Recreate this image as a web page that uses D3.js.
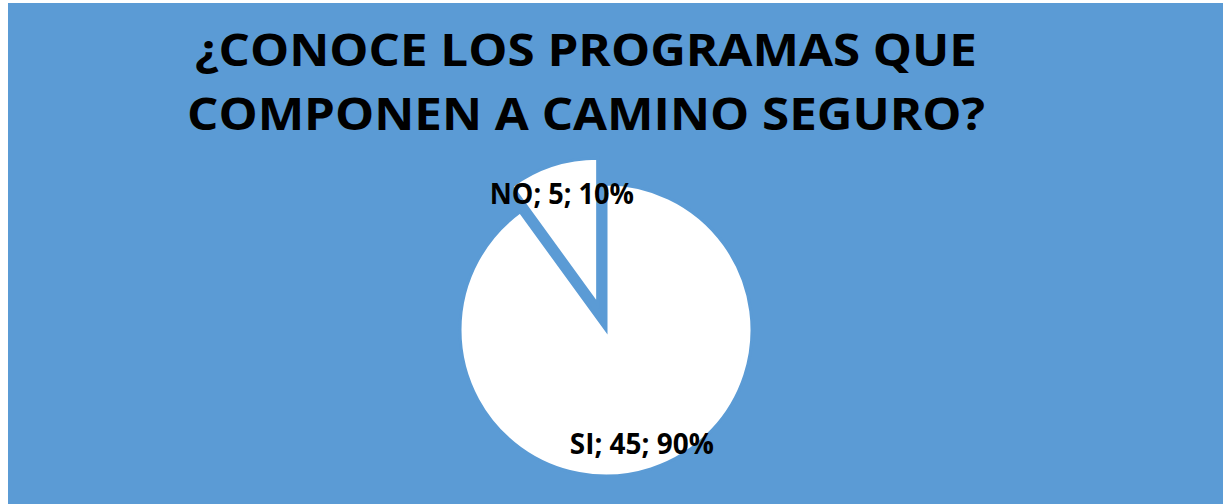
<!DOCTYPE html>
<html>
<head>
<meta charset="utf-8">
<script src="https://cdn.jsdelivr.net/npm/d3@7"></script>
<style>
  html, body { margin: 0; padding: 0; background: #ffffff; }
  svg { display: block; }
</style>
</head>
<body>
<div id="chart"></div>
<script>
const titleLines = ['¿CONOCE LOS PROGRAMAS QUE', 'COMPONEN A CAMINO SEGURO?'];
const categories = ['NO', 'SI'];
const values = [5, 45];
const percents = ['10%', '90%'];

const width = 1223;
const height = 504;
const blue = '#5b9bd5';

const svg = d3.select('#chart').append('svg')
  .attr('width', width)
  .attr('height', height);

svg.append('rect')
  .attr('x', 8)
  .attr('y', 3)
  .attr('width', width - 8)
  .attr('height', height - 3)
  .attr('fill', blue);

// title
const titleWidths = [782, 798];
svg.selectAll('text.title')
  .data(titleLines)
  .join('text')
  .attr('class', 'title')
  .attr('x', 586)
  .attr('y', (d, i) => 66 + i * 64)
  .attr('text-anchor', 'middle')
  .attr('textLength', (d, i) => titleWidths[i])
  .attr('lengthAdjust', 'spacingAndGlyphs')
  .style('font-family', '"Open Sans", sans-serif')
  .style('font-weight', 'bold')
  .style('font-size', '45px')
  .style('fill', '#000')
  .text(d => d);

// pie
const cx = 606;
const cy = 330;
const radius = 146;
const explode = 27;

const data = categories.map((c, i) => ({ name: c, value: values[i], pct: percents[i] }));

// NO starts at -36deg so SI begins at 0 and wraps round to 324deg
const pie = d3.pie()
  .value(d => d.value)
  .sort(null)
  .startAngle(-Math.PI / 5)
  .endAngle(2 * Math.PI - Math.PI / 5);

const arc = d3.arc().innerRadius(0).outerRadius(radius);

const arcs = pie(data);

const g = svg.append('g').attr('transform', `translate(${cx},${cy})`);

g.selectAll('path')
  .data(arcs)
  .join('path')
  .attr('d', arc)
  .attr('transform', d => {
    if (d.data.name !== 'NO') return null;
    const mid = (d.startAngle + d.endAngle) / 2;
    return `translate(${Math.sin(mid) * explode},${-Math.cos(mid) * explode})`;
  })
  .attr('fill', '#ffffff')
  .attr('stroke', blue)
  .attr('stroke-width', 3)
  .attr('stroke-linejoin', 'miter');

// data labels (placed like Excel's best-fit)
const labelPos = { NO: { angle: -18, r: 143 }, SI: { angle: 162.5, r: 119 } };

g.selectAll('text.label')
  .data(arcs)
  .join('text')
  .attr('class', 'label')
  .attr('x', d => Math.sin(labelPos[d.data.name].angle * Math.PI / 180) * labelPos[d.data.name].r)
  .attr('y', d => -Math.cos(labelPos[d.data.name].angle * Math.PI / 180) * labelPos[d.data.name].r)
  .attr('dy', '0.36em')
  .attr('text-anchor', 'middle')
  .attr('textLength', 144)
  .attr('lengthAdjust', 'spacingAndGlyphs')
  .style('font-family', '"Open Sans", sans-serif')
  .style('font-weight', 'bold')
  .style('font-size', '28px')
  .style('fill', '#000')
  .text(d => `${d.data.name}; ${d.data.value}; ${d.data.pct}`);
</script>
</body>
</html>
